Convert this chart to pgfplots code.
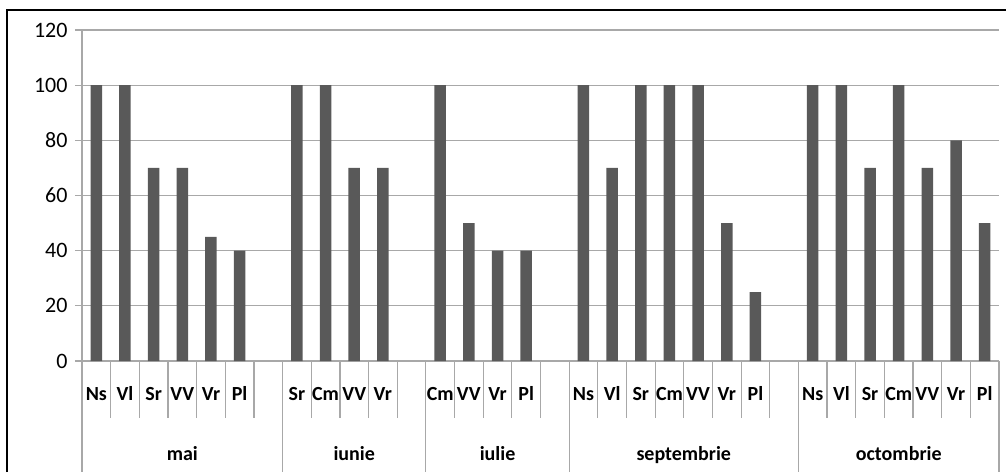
\documentclass[border=0pt]{standalone}
\usepackage{pgfplots}
\pgfplotsset{compat=1.18}
\usepackage{fontspec}
\setmainfont{Carlito}
\definecolor{barc}{HTML}{595959}
\definecolor{gridc}{HTML}{A8A8A8}
\begin{document}
\begin{tikzpicture}[x=1pt,y=1pt]
\begin{axis}[
  at={(0,0)}, anchor=south west,
  scale only axis, width=917pt, height=331pt,
  xmin=0, xmax=32, ymin=0, ymax=120,
  axis lines*=left,
  axis line style={gridc, line width=1.2pt},
  xtick=\empty,
  ytick={0,20,...,120},
  ymajorgrids,
  grid style={gridc, line width=1.2pt},
  tick align=outside,
  major tick length=7pt,
  ytick style={gridc, line width=1.2pt},
  yticklabel style={font=\fontsize{22}{22}\selectfont, xshift=-4pt},
  /pgf/number format/assume math mode=true,
  clip=false,
]
\addplot[ybar, bar width=11.5pt, fill=barc, draw=none] table {
x y
0.5 100
1.5 100
2.5 70
3.5 70
4.5 45
5.5 40
7.5 100
8.5 100
9.5 70
10.5 70
12.5 100
13.5 50
14.5 40
15.5 40
17.5 100
18.5 70
19.5 100
20.5 100
21.5 100
22.5 50
23.5 25
25.5 100
26.5 100
27.5 70
28.5 100
29.5 70
30.5 80
31.5 50
};
% short separators
\pgfplotsinvokeforeach{1,2,3,4,5,6,8,9,10,11,13,14,15,16,18,19,20,21,22,23,24,26,27,28,29,30,31}{
  \draw[gridc, line width=1.2pt] (axis cs:#1,0) -- ([yshift=-57pt]axis cs:#1,0);
}
% long separators
\pgfplotsinvokeforeach{0,7,12,17,25,32}{
  \draw[gridc, line width=1.2pt] (axis cs:#1,0) -- ([yshift=-111pt]axis cs:#1,0);
}
\def\catlab#1#2{\node[anchor=base, inner sep=0pt, font=\fontsize{20}{20}\selectfont\bfseries] at ([yshift=-39pt]axis cs:#1,0) {#2};}
\catlab{0.5}{Ns}\catlab{1.5}{Vl}\catlab{2.5}{Sr}\catlab{3.5}{VV}\catlab{4.5}{Vr}\catlab{5.5}{Pl}
\catlab{7.5}{Sr}\catlab{8.5}{Cm}\catlab{9.5}{VV}\catlab{10.5}{Vr}
\catlab{12.5}{Cm}\catlab{13.5}{VV}\catlab{14.5}{Vr}\catlab{15.5}{Pl}
\catlab{17.5}{Ns}\catlab{18.5}{Vl}\catlab{19.5}{Sr}\catlab{20.5}{Cm}\catlab{21.5}{VV}\catlab{22.5}{Vr}\catlab{23.5}{Pl}
\catlab{25.5}{Ns}\catlab{26.5}{Vl}\catlab{27.5}{Sr}\catlab{28.5}{Cm}\catlab{29.5}{VV}\catlab{30.5}{Vr}\catlab{31.5}{Pl}
\def\grplab#1#2{\node[anchor=base, inner sep=0pt, font=\fontsize{20}{20}\selectfont\bfseries] at ([yshift=-99pt]axis cs:#1,0) {#2};}
\grplab{3.5}{mai}\grplab{9.5}{iunie}\grplab{14.5}{iulie}\grplab{21}{septembrie}\grplab{28.5}{octombrie}
\end{axis}
\draw[black, line width=1.5pt] (-75,-111) -- (-75,351) -- (924,351);
\pgfresetboundingbox
\path[use as bounding box] (-82,-111) rectangle (924,361);
\end{tikzpicture}
\end{document}
